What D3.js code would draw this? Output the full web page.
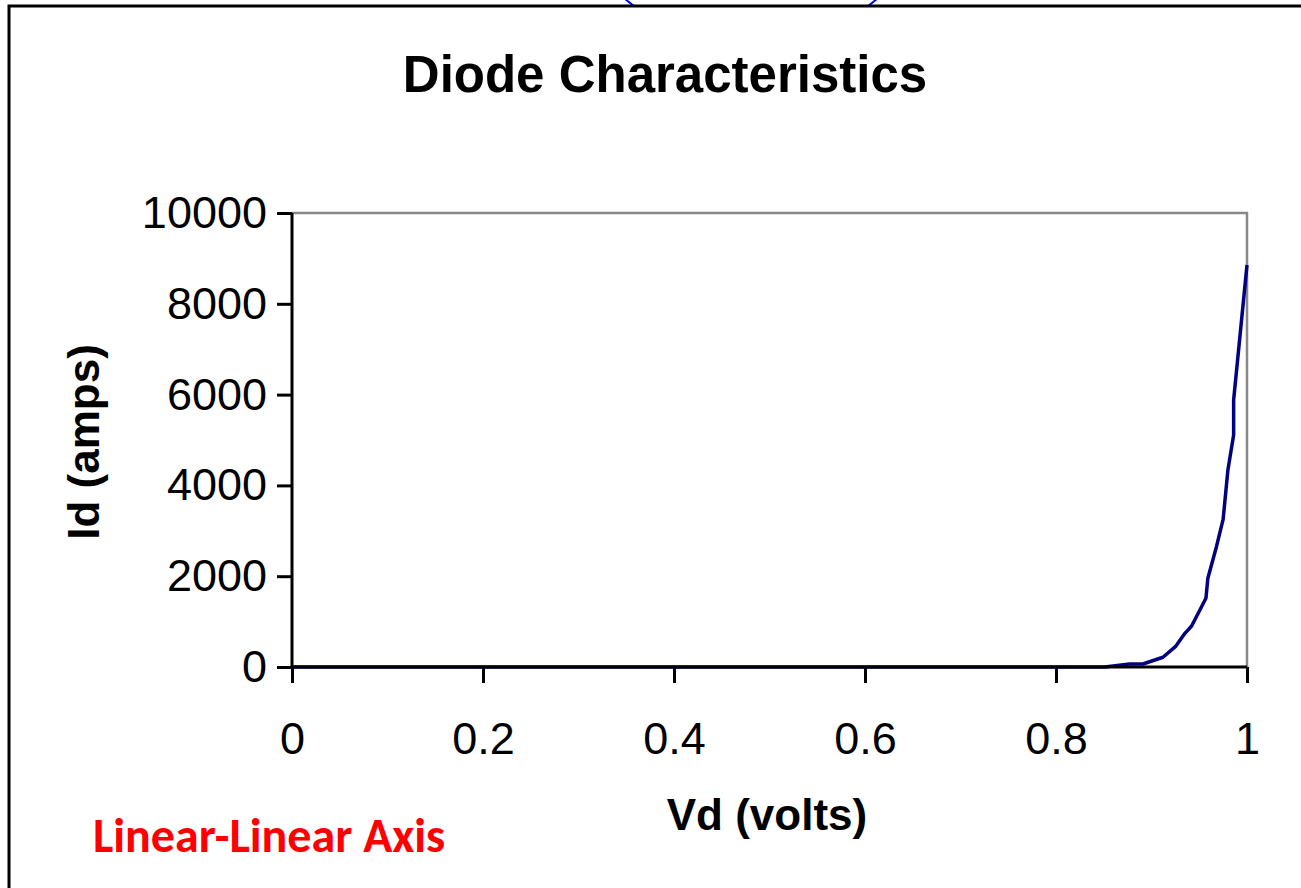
<!DOCTYPE html>
<html>
<head>
<meta charset="utf-8">
<script src="https://cdn.jsdelivr.net/npm/d3@7"></script>
<style>
  html, body { margin: 0; padding: 0; background: #fff; }
  svg { display: block; }
</style>
</head>
<body>
<svg id="chart" width="1301" height="888"></svg>
<script>
// ---- data ----
const vdVolts = [0, 0.1, 0.2, 0.3, 0.4, 0.5, 0.6, 0.7, 0.8, 0.851, 0.877, 0.891, 0.912, 0.925, 0.935, 0.942, 0.957, 0.959, 0.968, 0.975, 0.980, 0.986, 0.986, 1.0];
const idAmps  = [0, 0, 0, 0, 0, 0, 0, 0, 0, 0, 66, 66, 214, 447, 742, 903, 1513, 1954, 2650, 3253, 4339, 5110, 5881, 8855];
const xTicks = [0, 0.2, 0.4, 0.6, 0.8, 1];
const yTicks = [0, 2000, 4000, 6000, 8000, 10000];
const titleText = "Diode Characteristics";
const xTitle = "Vd (volts)";
const yTitle = "Id (amps)";
const noteText = "Linear-Linear Axis";

const svg = d3.select("#chart");
const font = "'Liberation Sans', Arial, sans-serif";

// decorative blue arc peeking over the frame
svg.append("clipPath").attr("id", "topclip")
  .append("rect").attr("x", 0).attr("y", 0).attr("width", 1301).attr("height", 7);
svg.append("circle")
  .attr("cx", 751).attr("cy", -150).attr("r", 195)
  .attr("fill", "none").attr("stroke", "#0000ff").attr("stroke-width", 2)
  .attr("clip-path", "url(#topclip)");

// outer frame
svg.append("rect")
  .attr("x", 9).attr("y", 6).attr("width", 1330).attr("height", 920)
  .attr("fill", "none").attr("stroke", "#000").attr("stroke-width", 3);

const x = d3.scaleLinear().domain([0, 1]).range([292, 1247]);
const y = d3.scaleLinear().domain([0, 10000]).range([667, 213]);

// plot-area border (top/right grey)
svg.append("path")
  .attr("d", `M${x(0)},${y(10000)}H${x(1)}V${y(0)}`)
  .attr("fill", "none").attr("stroke", "#888").attr("stroke-width", 2.5);

// series
const line = d3.line().x((d, i) => x(vdVolts[i])).y((d, i) => y(idAmps[i]));
svg.append("path")
  .datum(idAmps)
  .attr("d", line)
  .attr("fill", "none").attr("stroke", "#000080").attr("stroke-width", 3.5)
  .attr("stroke-linejoin", "round");

// axes
const xAxis = d3.axisBottom(x).tickValues(xTicks).tickSize(16).tickPadding(39)
  .tickFormat(d => d3.format("")(d));
const gx = svg.append("g").attr("transform", `translate(0,${y(0)})`).call(xAxis);
gx.select(".domain").attr("stroke", "#000").attr("stroke-width", 3).attr("d", `M${x(0)},0H${x(1)}`);
gx.selectAll(".tick line").attr("stroke", "#000").attr("stroke-width", 3);
gx.selectAll(".tick text").attr("font-family", font).attr("font-size", 45).attr("fill", "#000");

const yAxis = d3.axisLeft(y).tickValues(yTicks).tickSize(15).tickPadding(10)
  .tickFormat(d3.format("d"));
const gy = svg.append("g").attr("transform", `translate(${x(0)},0)`).call(yAxis);
gy.select(".domain").attr("stroke", "#000").attr("stroke-width", 3).attr("d", `M0,${y(0)}V${y(10000)}`);
gy.selectAll(".tick line").attr("stroke", "#000").attr("stroke-width", 3);
gy.selectAll(".tick text").attr("font-family", font).attr("font-size", 45).attr("fill", "#000");

// titles
svg.append("text").attr("x", 665).attr("y", 92).attr("text-anchor", "middle")
  .attr("font-family", font).attr("font-weight", "bold").attr("font-size", 51)
  .text(titleText);
svg.append("text").attr("x", 767).attr("y", 830).attr("text-anchor", "middle")
  .attr("font-family", font).attr("font-weight", "bold").attr("font-size", 44)
  .text(xTitle);
svg.append("text").attr("transform", "translate(99,442) rotate(-90)").attr("text-anchor", "middle")
  .attr("font-family", font).attr("font-weight", "bold").attr("font-size", 44)
  .text(yTitle);

// red note
svg.append("text").attr("x", 93).attr("y", 852)
  .attr("font-family", "Carlito, Calibri, Lato, 'Open Sans', sans-serif").attr("font-weight", "bold")
  .attr("font-size", 48).attr("fill", "#ff0000")
  .text(noteText);
</script>
</body>
</html>
